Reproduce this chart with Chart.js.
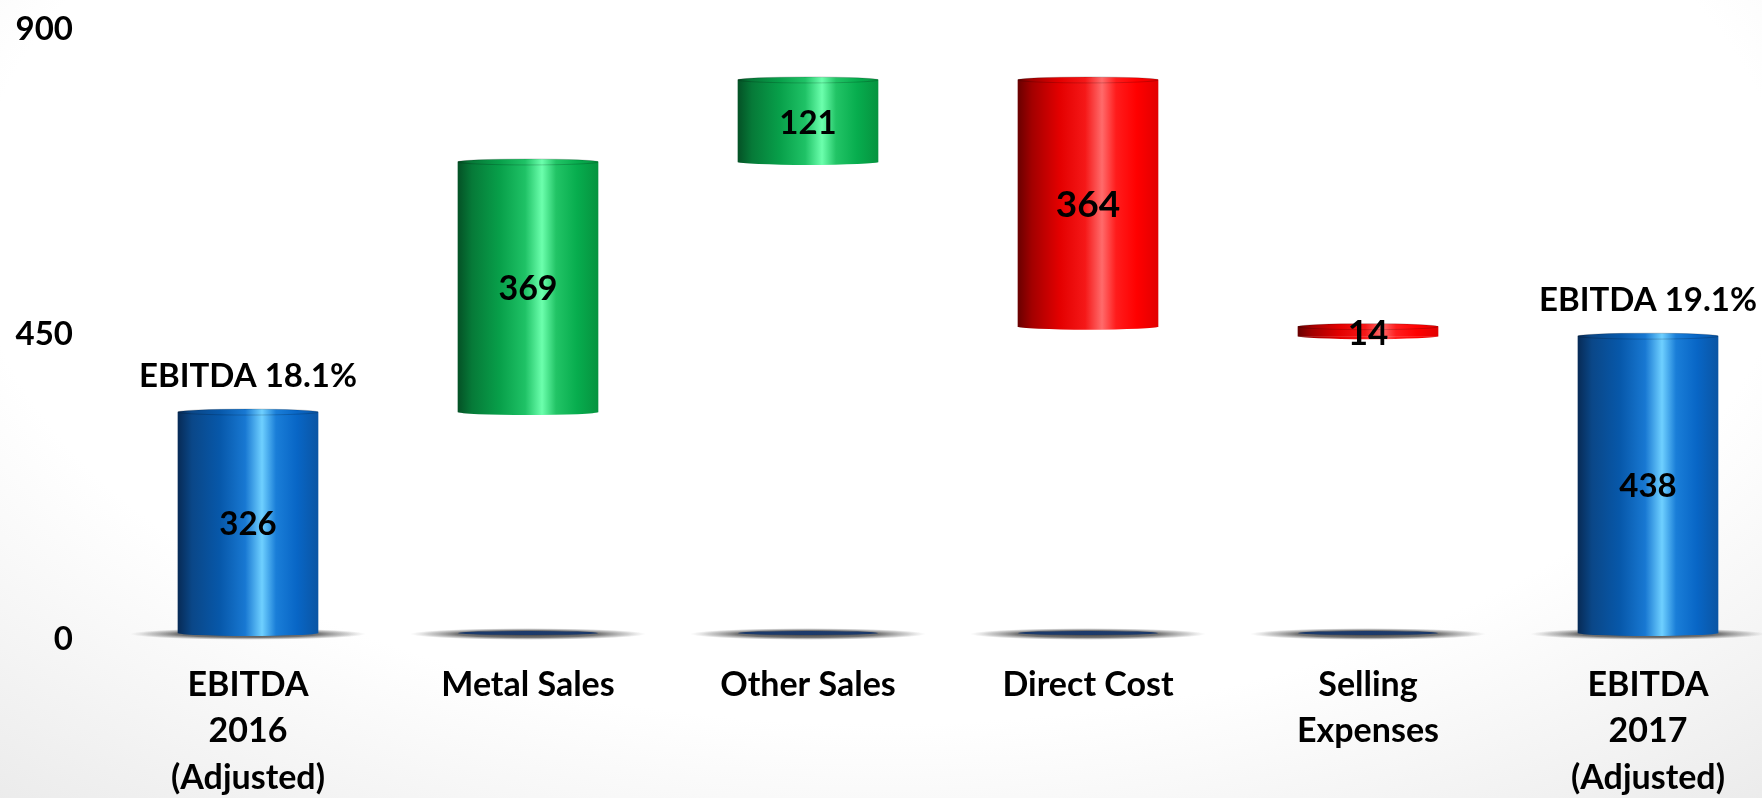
<!DOCTYPE html>
<html>
<head>
<meta charset="utf-8">
<title>EBITDA bridge 2016 – 2017</title>
<script src="https://cdn.jsdelivr.net/npm/chart.js@4.4.0/dist/chart.umd.min.js"></script>
<style>
  html, body { margin: 0; padding: 0; width: 1762px; height: 798px; overflow: hidden; }
  body { background: radial-gradient(ellipse 78% 95% at 50% 28%, #ffffff 66%, #ebebeb 100%); }
  #wrap { position: relative; width: 1762px; height: 798px; }
</style>
</head>
<body>
<div id="wrap"><canvas id="bridge"></canvas></div>
<script>
// Bridge steps from EBITDA 2016 to EBITDA 2017 (adjusted)
const categories = [
  ['EBITDA', '2016', '(Adjusted)'],
  'Metal Sales',
  'Other Sales',
  'Direct Cost',
  ['Selling', 'Expenses'],
  ['EBITDA', '2017', '(Adjusted)']
];
const changes = [326, 369, 121, -364, -14, 438];
const kinds = ['total', 'up', 'up', 'down', 'down', 'total'];
const marginLabels = ['EBITDA 18.1%', '', '', '', '', 'EBITDA 19.1%'];
const yTicks = [0, 450, 900];

// Floating [low, high] ranges built from the running total
const ranges = [];
let running = 0;
changes.forEach((v, i) => {
  if (kinds[i] === 'total') { running = v; ranges.push([0, v]); }
  else { const next = running + v; ranges.push([Math.min(running, next), Math.max(running, next)]); running = next; }
});

const BAR_W = 140;
const FONT = 'Lato, "Open Sans", sans-serif';
const valueFontSizes = [33, 34, 33, 37, 35, 33];

// Horizontal shading that gives each bar a cylinder look
const shades = {
  total: [[0, '#072b57'], [0.1, '#0a4788'], [0.3, '#0758aa'], [0.48, '#1878d2'], [0.6, '#6fd0ff'], [0.7, '#1a7ed8'], [0.85, '#0866c6'], [1, '#0a55a4']],
  up:    [[0, '#045226'], [0.1, '#067a38'], [0.3, '#08a04a'], [0.48, '#1fc266'], [0.6, '#6cffad'], [0.7, '#22c466'], [0.85, '#07ad4e'], [1, '#06933f']],
  down:  [[0, '#6a0000'], [0.1, '#a30000'], [0.3, '#e40000'], [0.48, '#f51818'], [0.6, '#ff6b6b'], [0.7, '#ff1c1c'], [0.85, '#ff0000'], [1, '#e20000']]
};
function shadeFor(c, x, kind) {
  const g = c.createLinearGradient(x - BAR_W / 2, 0, x + BAR_W / 2, 0);
  shades[kind].forEach(([p, col]) => g.addColorStop(p, col));
  return g;
}

// Ground shadows, thin base discs under floating bars, and rounded bar ends
const groundPlugin = {
  id: 'ground',
  beforeDatasetsDraw(chart) {
    const c = chart.ctx;
    const y0 = chart.scales.y.getPixelForValue(0);
    categories.forEach((_, i) => {
      const x = chart.scales.x.getPixelForValue(i);
      c.save();
      c.translate(x, y0 + 1);
      c.scale(1, 0.05);
      const rg = c.createRadialGradient(0, 0, 0, 0, 0, 118);
      rg.addColorStop(0, 'rgba(45,45,45,0.95)');
      rg.addColorStop(0.6, 'rgba(70,70,70,0.75)');
      rg.addColorStop(0.85, 'rgba(120,120,120,0.35)');
      rg.addColorStop(1, 'rgba(160,160,160,0)');
      c.fillStyle = rg;
      c.beginPath();
      c.arc(0, 0, 118, 0, Math.PI * 2);
      c.fill();
      c.restore();
      if (kinds[i] !== 'total') {
        c.save();
        c.fillStyle = '#1c3a6b';
        c.beginPath();
        c.ellipse(x, y0, BAR_W / 2, 2, 0, 0, Math.PI * 2);
        c.fill();
        c.restore();
      }
    });
  },
  afterDatasetsDraw(chart) {
    const c = chart.ctx;
    const meta = chart.getDatasetMeta(0);
    meta.data.forEach((el, i) => {
      const top = Math.min(el.y, el.base);
      const bottom = Math.max(el.y, el.base);
      const x = el.x;
      c.save();
      c.fillStyle = shadeFor(c, x, kinds[i]);
      c.beginPath();
      c.ellipse(x, bottom, BAR_W / 2, 3, 0, 0, Math.PI);
      c.fill();
      c.beginPath();
      c.ellipse(x, top, BAR_W / 2, 3, 0, 0, Math.PI * 2);
      c.fill();
      c.strokeStyle = 'rgba(0,0,0,0.18)';
      c.lineWidth = 1;
      c.stroke();
      c.restore();
    });
  }
};

// Value labels inside bars and margin captions above the totals
const labelPlugin = {
  id: 'barLabels',
  afterDatasetsDraw(chart) {
    const c = chart.ctx;
    const meta = chart.getDatasetMeta(0);
    c.save();
    c.fillStyle = '#000';
    c.textAlign = 'center';
    c.textBaseline = 'middle';
    meta.data.forEach((el, i) => {
      const top = Math.min(el.y, el.base);
      const bottom = Math.max(el.y, el.base);
      c.font = 'bold ' + valueFontSizes[i] + 'px ' + FONT;
      c.fillText(String(Math.abs(changes[i])), el.x, (top + bottom) / 2 + 2);
      if (marginLabels[i]) {
        c.font = 'bold 33px ' + FONT;
        c.fillText(marginLabels[i], el.x, top - 36);
      }
    });
    c.restore();
  }
};

function draw() {
  new Chart(document.getElementById('bridge'), {
    type: 'bar',
    data: {
      labels: categories,
      datasets: [{
        data: ranges,
        barThickness: BAR_W,
        borderWidth: 0,
        borderSkipped: false,
        clip: false,
        backgroundColor: ctx => {
          const ch = ctx.chart;
          if (!ch.chartArea || !ch.scales.x) return '#0a5cb4';
          return shadeFor(ch.ctx, ch.scales.x.getPixelForValue(ctx.dataIndex), kinds[ctx.dataIndex]);
        }
      }]
    },
    options: {
      responsive: true,
      maintainAspectRatio: false,
      animation: false,
      layout: { padding: { top: 23, right: 114, bottom: 0, left: 0 } },
      plugins: { legend: { display: false }, tooltip: { enabled: false } },
      scales: {
        x: {
          type: 'category',
          offset: false,
          grid: { display: false, drawTicks: false },
          border: { display: false },
          ticks: {
            color: '#000',
            font: { family: FONT, size: 34, weight: 'bold', lineHeight: 1.36 },
            padding: 29,
            maxRotation: 0,
            autoSkip: false
          },
          afterFit(scale) { scale.height = 165; }
        },
        y: {
          min: yTicks[0],
          max: yTicks[yTicks.length - 1],
          grid: { display: false, drawTicks: false },
          border: { display: false },
          afterBuildTicks(scale) { scale.ticks = yTicks.map(v => ({ value: v })); },
          ticks: {
            color: '#000',
            font: { family: FONT, size: 33, weight: 'bold', lineHeight: 0.36 },
            padding: 175,
            // an empty first line drops each number slightly below its tick
            callback: v => ['', String(v)]
          },
          afterFit(scale) {
            scale.width = 248;
            scale.paddingTop = 18;
            scale.paddingBottom = 18;
          }
        }
      }
    },
    plugins: [groundPlugin, labelPlugin]
  });
}

if (document.fonts && document.fonts.load) {
  document.fonts.load('bold 33px Lato').then(draw, draw);
} else {
  draw();
}
</script>
</body>
</html>
